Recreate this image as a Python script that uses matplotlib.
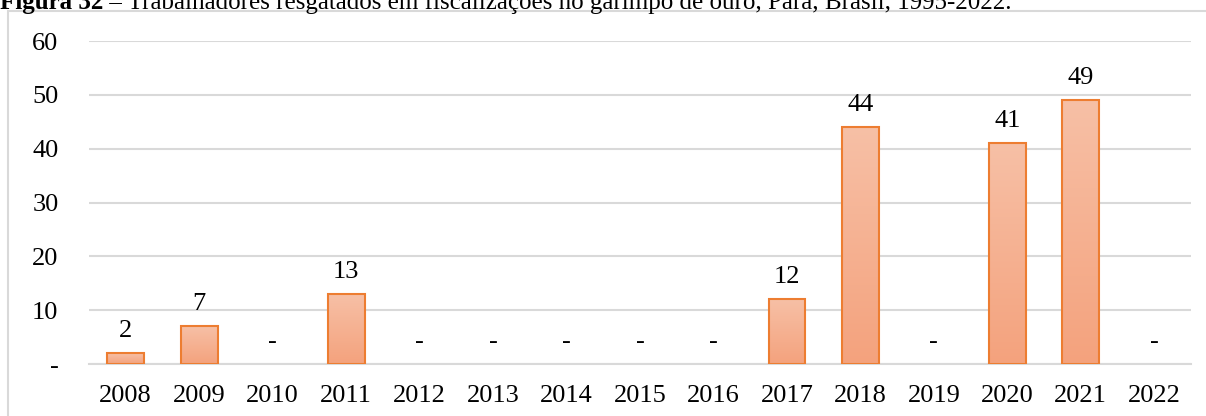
import matplotlib.pyplot as plt
import matplotlib.patches as mpatches
import numpy as np

years = ['2008', '2009', '2010', '2011', '2012', '2013', '2014', '2015',
         '2016', '2017', '2018', '2019', '2020', '2021', '2022']
rescued = [2, 7, 0, 13, 0, 0, 0, 0, 0, 12, 44, 0, 41, 49, 0]

plt.rcParams['font.family'] = ['Liberation Serif', 'DejaVu Serif']

fig = plt.figure(figsize=(12.06, 4.16), dpi=100)
ax = fig.add_axes([89 / 1206, 1 - 364 / 416, (1191 - 89) / 1206, (364 - 41) / 416])

# light frame around chart area (Excel chart border)
frame = mpatches.Rectangle((8 / 1206, -0.01), 1.0, 1 - 11 / 416 + 0.01,
                           transform=fig.transFigure, fill=False,
                           edgecolor='#d9d9d9', linewidth=1.5)
fig.patches.append(frame)

x = np.arange(len(years))
widths = [1.5 if v > 0 else 0 for v in rescued]
bars = ax.bar(x, rescued, width=0.5, facecolor='none', edgecolor='#ed7d31',
              linewidth=widths, zorder=3)

# vertical gradient fill inside each bar
grad = np.linspace(0, 1, 256).reshape(-1, 1)
top_c = np.array([0xf7, 0xc0, 0xa6]) / 255
bot_c = np.array([0xf4, 0xa2, 0x7d]) / 255
rgb = top_c * (1 - grad[..., None]) + bot_c * grad[..., None]
rgb = rgb.reshape(256, 1, 3)
for b in bars:
    h = b.get_height()
    if h <= 0:
        continue
    x0 = b.get_x()
    w = b.get_width()
    im = ax.imshow(rgb, extent=[x0, x0 + w, 0, h], aspect='auto',
                   origin='upper', zorder=2, interpolation='bicubic')
    im.set_clip_path(b)

for xi, v in zip(x, rescued):
    ax.annotate(str(v) if v else '-', (xi, v), xytext=(0, 8),
                textcoords='offset points', ha='center', va='bottom',
                fontsize=19, color='#000000')

ax.set_xlim(-0.5, len(years) - 0.5)
ax.set_ylim(0, 60)
ax.set_yticks(range(0, 61, 10))
ax.set_yticklabels(['-'] + [str(t) for t in range(10, 61, 10)])
ax.set_xticks(x)
ax.set_xticklabels(years)
ax.tick_params(axis='both', length=0, labelsize=19, colors='#000000')
ax.tick_params(axis='y', pad=22)
ax.tick_params(axis='x', pad=15)
ax.grid(axis='y', color='#d9d9d9', linewidth=1.5, zorder=0)
ax.set_axisbelow(True)
for s in ['top', 'right', 'left']:
    ax.spines[s].set_visible(False)
ax.spines['bottom'].set_color('#d9d9d9')
ax.spines['bottom'].set_linewidth(1.5)

# caption, partly cut off at the top as in the source
base_y = 1 - 9 / 416
t1 = fig.text(0.0, base_y, 'Figura 32', fontsize=18, fontweight='bold',
              ha='left', va='baseline')
fig.canvas.draw()
bb = t1.get_window_extent()
fig.text(bb.x1 / 1206, base_y,
         ' – Trabalhadores resgatados em fiscalizações no garimpo de ouro, Pará, Brasil, 1995-2022.',
         fontsize=18, ha='left', va='baseline')

fig.savefig('out.png', dpi=100)
